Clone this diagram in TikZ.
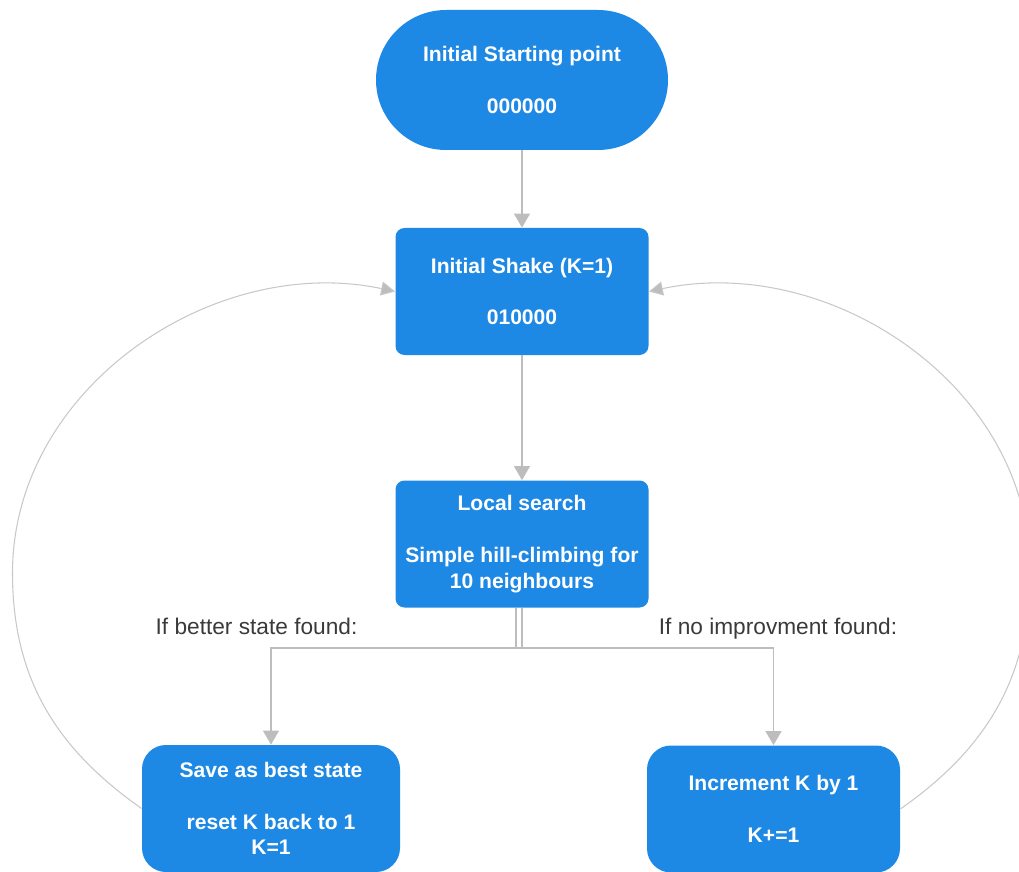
\documentclass[tikz,border=0pt]{standalone}
\usepackage{fontspec}
\setmainfont{Liberation Sans}
\usetikzlibrary{arrows.meta,calc}

\definecolor{boxblue}{HTML}{1E88E5}
\definecolor{linegray}{HTML}{BDBDBD}
\definecolor{loopgray}{HTML}{C8C8C8}
\definecolor{labelgray}{HTML}{3A3A3A}

\begin{document}
\begin{tikzpicture}[
  block/.style={fill=boxblue,text=white,align=center,inner sep=0pt,
    minimum width=5.06cm,minimum height=2.54cm,rounded corners=0.18cm,
    font=\bfseries\fontsize{12}{14.7}\selectfont},
  conn/.style={draw=linegray,line width=1.1pt,-{Triangle[width=9pt,length=8pt]}},
  back/.style={draw=loopgray,line width=0.6pt,-{Triangle[width=8pt,length=8pt,fill=linegray]}},
  cond/.style={text=labelgray,anchor=base,font=\fontsize{12.9}{15}\selectfont}]
  \useasboundingbox (0,0) rectangle (20.38,-17.44);
  % boxes
  \node[block,minimum width=5.84cm,minimum height=2.8cm,rounded corners=1.4cm] (start) at (10.44,-1.6)
    {Initial Starting point\\[14.7pt]000000};
  \node[block] (shake) at (10.44,-5.83) {Initial Shake (K=1)\\[14.7pt]010000};
  \node[block] (local) at (10.44,-10.88) {Local search\\[14.7pt]Simple hill-climbing for\\10 neighbours};
  \node[block,minimum width=5.16cm,rounded corners=0.48cm] (save) at (5.42,-16.17)
    {Save as best state\\[14.7pt]reset K back to 1\\K=1};
  \node[block,rounded corners=0.48cm] (inc) at (15.47,-16.18) {Increment K by 1\\[14.7pt]K+=1};
  % conditions
  \node[cond] (better) at (5.13,-12.68) {If better state found:};
  \node[cond] (noimp) at (15.56,-12.68) {If no improvment found:};
  % straight connectors
  \coordinate (split) at (10.44,-12.96);
  \draw[conn] (start) -- (shake);
  \draw[conn] (shake) -- (local);
  \draw[conn] ([xshift=-1.2mm]local.south) |- (split) -| (save.north);
  \draw[conn] (local.south) |- (split) -| (inc.north);
  % loops back to the shake
  \coordinate (lft) at (0.25,-11.46);
  \coordinate (rgt) at (20.6,-11.4);
  \draw[back] (save.west) to[out=145,in=-90] (lft) to[out=90,in=168] (shake.west);
  \draw[back] (inc.east) to[out=35,in=-90] (rgt) to[out=90,in=12] (shake.east);
\end{tikzpicture}
\end{document}
